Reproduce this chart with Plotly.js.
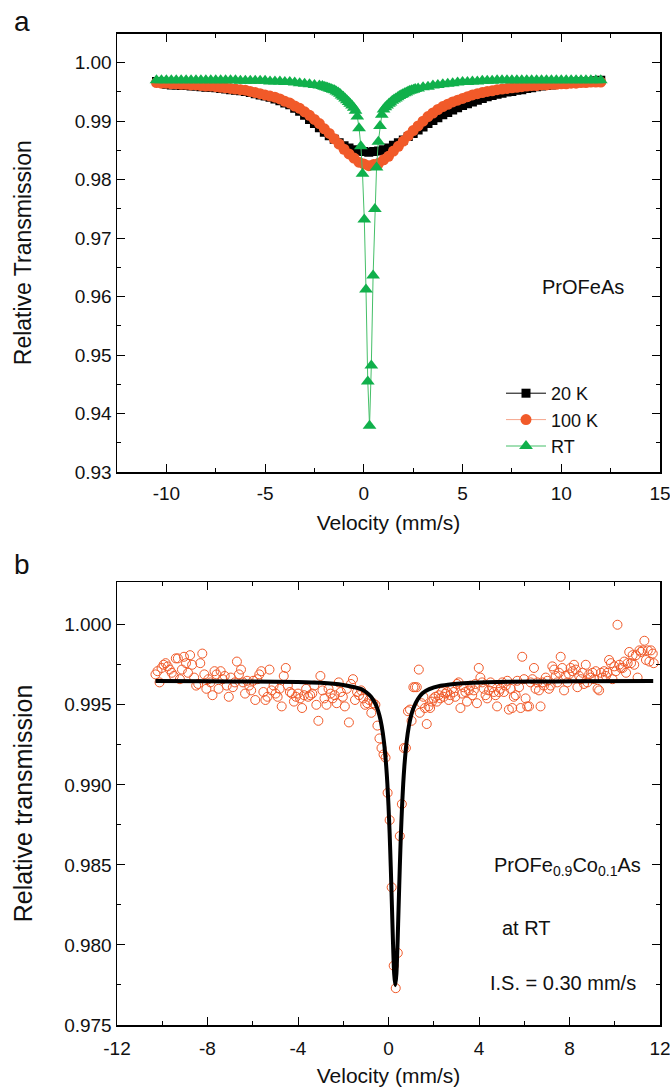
<!DOCTYPE html>
<html><head><meta charset="utf-8">
<script src="https://cdn.plot.ly/plotly-3.0.1.min.js"></script>
<style>html,body{margin:0;padding:0;background:#fff}#chart{width:670px;height:1087px}</style>
</head><body><div id="chart"></div>
<script>
// ---------- Panel a: PrOFeAs, three temperatures ----------
const velA = [
-10.5,-10.25,-10.0,-9.75,-9.5,-9.25,-9.0,-8.75,-8.5,-8.25,
-8.0,-7.75,-7.5,-7.25,-7.0,-6.75,-6.5,-6.25,-6.0,-5.75,
-5.5,-5.25,-5.0,-4.75,-4.5,-4.25,-4.0,-3.75,-3.5,-3.25,
-3.0,-2.75,-2.5,-2.25,-2.0,-1.75,-1.5,-1.25,-1.0,-0.75,
-0.5,-0.25,0.0,0.25,0.5,0.75,1.0,1.25,1.5,1.75,
2.0,2.25,2.5,2.75,3.0,3.25,3.5,3.75,4.0,4.25,
4.5,4.75,5.0,5.25,5.5,5.75,6.0,6.25,6.5,6.75,
7.0,7.25,7.5,7.75,8.0,8.25,8.5,8.75,9.0,9.25,
9.5,9.75,10.0,10.25,10.5,10.75,11.0,11.25,11.5,11.75,12.0];
const t20K = [
0.9968,0.9967,0.9963,0.9962,0.9962,0.9961,0.9961,0.9960,0.9960,0.9959,
0.9958,0.9958,0.9957,0.9956,0.9955,0.9954,0.9953,0.9952,0.9951,0.9949,
0.9947,0.9945,0.9943,0.9941,0.9938,0.9935,0.9931,0.9928,0.9922,0.9917,
0.9910,0.9903,0.9896,0.9889,0.9881,0.9875,0.9869,0.9863,0.9858,0.9854,
0.9851,0.9849,0.9848,0.9847,0.9848,0.9849,0.9851,0.9854,0.9859,0.9863,
0.9868,0.9874,0.9879,0.9885,0.9890,0.9896,0.9901,0.9906,0.9911,0.9915,
0.9919,0.9923,0.9927,0.9930,0.9933,0.9936,0.9939,0.9942,0.9944,0.9946,
0.9948,0.9950,0.9951,0.9953,0.9954,0.9956,0.9957,0.9959,0.9960,0.9961,
0.9962,0.9963,0.9964,0.9965,0.9966,0.9967,0.9967,0.9968,0.9968,0.9969,0.9970];
const t100K = [
0.9966,0.9965,0.9965,0.9964,0.9964,0.9963,0.9963,0.9962,0.9962,0.9961,
0.9960,0.9960,0.9959,0.9958,0.9957,0.9956,0.9955,0.9954,0.9953,0.9951,
0.9949,0.9947,0.9945,0.9943,0.9941,0.9938,0.9934,0.9931,0.9926,0.9922,
0.9916,0.9910,0.9903,0.9896,0.9887,0.9879,0.9870,0.9861,0.9852,0.9844,
0.9837,0.9830,0.9827,0.9824,0.9826,0.9828,0.9834,0.9840,0.9849,0.9857,
0.9866,0.9875,0.9884,0.9892,0.9900,0.9908,0.9914,0.9920,0.9925,0.9929,
0.9933,0.9936,0.9939,0.9942,0.9945,0.9947,0.9949,0.9951,0.9952,0.9954,
0.9955,0.9956,0.9957,0.9958,0.9959,0.9960,0.9961,0.9961,0.9962,0.9962,
0.9963,0.9963,0.9964,0.9964,0.9965,0.9965,0.9966,0.9966,0.9967,0.9967,0.9967];
const velRT = [
-10.5,-10.25,-10.0,-9.75,-9.5,-9.25,-9.0,-8.75,-8.5,-8.25,
-8.0,-7.75,-7.5,-7.25,-7.0,-6.75,-6.5,-6.25,-6.0,-5.75,
-5.5,-5.25,-5.0,-4.75,-4.5,-4.25,-4.0,-3.75,-3.5,-3.25,
-3.0,-2.75,-2.5,-2.25,-2.10,-2.01,-1.92,-1.83,-1.74,-1.66,
-1.57,-1.48,-1.39,-1.30,-1.21,-1.13,-1.04,-0.95,-0.86,-0.77,
-0.69,-0.60,-0.51,-0.42,-0.33,-0.24,-0.15,-0.065,0.025,0.11,
0.20,0.29,0.38,0.47,0.56,0.645,0.735,0.82,0.91,1.00,
1.09,1.18,1.27,1.35,1.44,1.53,1.62,1.71,1.80,1.89,
1.97,2.06,2.15,2.24,2.33,2.42,2.51,2.60,2.75,3.0,
3.25,3.5,3.75,4.0,4.25,4.5,4.75,5.0,5.25,5.5,
5.75,6.0,6.25,6.5,6.75,7.0,7.25,7.5,7.75,8.0,
8.25,8.5,8.75,9.0,9.25,9.5,9.75,10.0,10.25,10.5,
10.75,11.0,11.25,11.5,11.75,12.0];
const tRT = [
0.9970,0.9970,0.9970,0.9970,0.9970,0.9970,0.9970,0.9970,0.9970,0.9970,
0.9970,0.9970,0.9970,0.9970,0.9970,0.9970,0.9970,0.9969,0.9969,0.9969,
0.9969,0.9969,0.9969,0.9968,0.9968,0.9968,0.9967,0.9967,0.9966,0.9965,
0.9964,0.9963,0.9962,0.9961,0.9960,0.9959,0.9958,0.9957,0.9956,0.9955,
0.9954,0.9953,0.9951,0.9949,0.9947,0.9944,0.9942,0.9939,0.9936,0.9933,
0.9930,0.9927,0.9923,0.9918,0.9908,0.9888,0.9857,0.9810,0.9732,0.9612,
0.9455,0.9379,0.9482,0.9636,0.9750,0.9821,0.9865,0.9892,0.9911,0.9920,
0.9924,0.9927,0.9930,0.9932,0.9935,0.9937,0.9939,0.9941,0.9943,0.9945,
0.9946,0.9948,0.9949,0.9951,0.9952,0.9953,0.9954,0.9955,0.9956,0.9958,
0.9959,0.9961,0.9962,0.9963,0.9964,0.9965,0.9966,0.9967,0.9967,0.9968,
0.9968,0.9969,0.9969,0.9969,0.9970,0.9970,0.9970,0.9970,0.9970,0.9970,
0.9970,0.9970,0.9970,0.9970,0.9970,0.9970,0.9970,0.9970,0.9970,0.9970,
0.9970,0.9970,0.9970,0.9970,0.9970,0.9970];

// ---------- Panel b: PrOFe0.9Co0.1As at RT ----------
const velB = [
-10.30,-10.21,-10.12,-10.03,-9.94,-9.85,-9.76,-9.67,-9.58,-9.49,
-9.40,-9.31,-9.22,-9.13,-9.04,-8.95,-8.86,-8.77,-8.68,-8.59,
-8.50,-8.41,-8.32,-8.23,-8.14,-8.05,-7.96,-7.87,-7.78,-7.69,
-7.60,-7.51,-7.42,-7.33,-7.24,-7.15,-7.06,-6.97,-6.88,-6.79,
-6.70,-6.61,-6.52,-6.43,-6.34,-6.25,-6.16,-6.07,-5.98,-5.89,
-5.80,-5.71,-5.62,-5.53,-5.44,-5.35,-5.26,-5.17,-5.08,-4.99,
-4.90,-4.81,-4.72,-4.63,-4.54,-4.45,-4.36,-4.27,-4.18,-4.09,
-4.00,-3.91,-3.82,-3.73,-3.64,-3.55,-3.46,-3.37,-3.28,-3.19,
-3.10,-3.01,-2.92,-2.83,-2.74,-2.65,-2.56,-2.47,-2.38,-2.29,
-2.20,-2.11,-2.02,-1.93,-1.84,-1.75,-1.66,-1.57,-1.48,-1.39,
-1.30,-1.21,-1.12,-1.03,-0.94,-0.85,-0.76,-0.67,-0.58,-0.49,
-0.40,-0.31,-0.22,-0.13,-0.04,0.05,0.14,0.23,0.32,0.41,
0.50,0.59,0.68,0.77,0.86,0.95,1.02,1.10,1.17,1.25,
1.34,1.38,1.46,1.54,1.61,1.69,1.77,1.84,1.92,1.99,
2.07,2.14,2.22,2.29,2.37,2.44,2.51,2.59,2.66,2.73,
2.81,2.88,2.95,3.03,3.10,3.18,3.25,3.32,3.40,3.47,
3.55,3.62,3.70,3.77,3.84,3.91,3.99,4.06,4.14,4.21,
4.29,4.36,4.44,4.51,4.58,4.66,4.73,4.80,4.88,4.95,
5.03,5.10,5.18,5.25,5.32,5.40,5.47,5.54,5.62,5.69,
5.77,5.84,5.91,5.99,6.06,6.13,6.21,6.28,6.36,6.43,
6.50,6.58,6.65,6.72,6.80,6.87,6.95,7.02,7.09,7.17,
7.24,7.32,7.39,7.46,7.54,7.61,7.68,7.76,7.83,7.91,
7.98,8.05,8.13,8.20,8.28,8.35,8.43,8.50,8.57,8.64,
8.72,8.79,8.87,8.94,9.02,9.09,9.16,9.24,9.31,9.39,
9.46,9.53,9.61,9.68,9.75,9.83,9.90,9.98,10.05,10.12,
10.20,10.27,10.35,10.42,10.50,10.57,10.64,10.72,10.79,10.86,
10.94,11.01,11.09,11.16,11.23,11.31,11.38,11.46,11.53,11.60,
11.68,11.72];
const tB = [
0.9969,0.9971,0.9964,0.9973,0.9975,0.9976,0.9974,0.9972,0.9970,0.9968,
0.9979,0.9979,0.9966,0.9972,0.9980,0.9976,0.9970,0.9981,0.9975,0.9967,
0.9962,0.9963,0.9976,0.9982,0.9969,0.9960,0.9966,0.9964,0.9956,0.9971,
0.9969,0.9960,0.9971,0.9966,0.9968,0.9962,0.9955,0.9967,0.9961,0.9964,
0.9977,0.9969,0.9972,0.9964,0.9957,0.9965,0.9962,0.9959,0.9965,0.9953,
0.9966,0.9969,0.9971,0.9958,0.9953,0.9955,0.9972,0.9959,0.9962,0.9957,
0.9955,0.9960,0.9949,0.9968,0.9973,0.9962,0.9958,0.9957,0.9952,0.9955,
0.9957,0.9954,0.9948,0.9956,0.9960,0.9955,0.9956,0.9957,0.9962,0.9950,
0.9940,0.9968,0.9959,0.9954,0.9950,0.9960,0.9957,0.9954,0.9956,0.9951,
0.9964,0.9958,0.9955,0.9949,0.9960,0.9939,0.9963,0.9966,0.9953,0.9958,
0.9956,0.9959,0.9954,0.9950,0.9951,0.9953,0.9945,0.9951,0.9950,0.9937,
0.9929,0.9923,0.9919,0.9917,0.9895,0.9878,0.9836,0.9787,0.9773,0.9795,
0.9868,0.9888,0.9923,0.9923,0.9946,0.9947,0.9940,0.9961,0.9961,0.9961,
0.9972,0.9945,0.9951,0.9955,0.9948,0.9938,0.9949,0.9948,0.9952,0.9954,
0.9955,0.9952,0.9956,0.9954,0.9958,0.9955,0.9957,0.9958,0.9953,0.9956,
0.9960,0.9958,0.9955,0.9963,0.9964,0.9948,0.9957,0.9961,0.9958,0.9952,
0.9959,0.9962,0.9956,0.9959,0.9963,0.9951,0.9973,0.9967,0.9964,0.9960,
0.9956,0.9954,0.9959,0.9964,0.9961,0.9958,0.9956,0.9949,0.9958,0.9960,
0.9964,0.9958,0.9962,0.9965,0.9947,0.9960,0.9948,0.9955,0.9956,0.9965,
0.9961,0.9948,0.9980,0.9966,0.9954,0.9949,0.9949,0.9964,0.9966,0.9973,
0.9960,0.9964,0.9959,0.9949,0.9964,0.9962,0.9967,0.9965,0.9960,0.9962,
0.9974,0.9972,0.9968,0.9964,0.9970,0.9980,0.9973,0.9959,0.9968,0.9964,
0.9969,0.9973,0.9971,0.9975,0.9972,0.9961,0.9968,0.9966,0.9970,0.9963,
0.9975,0.9964,0.9969,0.9967,0.9970,0.9966,0.9971,0.9960,0.9959,0.9970,
0.9967,0.9971,0.9968,0.9970,0.9978,0.9976,0.9966,0.9974,0.9971,1.0000,
0.9975,0.9973,0.9973,0.9977,0.9970,0.9976,0.9983,0.9976,0.9981,0.9975,
0.9981,0.9967,0.9984,0.9983,0.9984,0.9990,0.9978,0.9984,0.9977,0.9984,
0.9982,0.9976];
const velFit = [-10.3,-8.0,-6.0,-4.0,-3.0,-2.0,-1.5,-1.2,-1.0,-0.8,-0.7,-0.6,-0.5,-0.4,-0.3,-0.2,-0.1,-0.05,0.0,0.05,0.1,0.15,0.2,0.25,0.3,0.35,0.4,0.45,0.5,0.55,0.6,0.65,0.7,0.8,0.9,1.0,1.1,1.3,1.5,1.8,2.3,2.8,3.3,4.3,6.3,8.3,11.7];
const tFit = [0.99648,0.99647,0.99645,0.99642,0.99637,0.99624,0.99610,0.99598,0.99580,0.99555,0.99536,0.99512,0.99479,0.99433,0.99367,0.99268,0.99114,0.99006,0.98869,0.98698,0.98489,0.98251,0.98010,0.97821,0.97748,0.97821,0.98010,0.98251,0.98489,0.98698,0.98869,0.99006,0.99114,0.99268,0.99367,0.99433,0.99479,0.99536,0.99572,0.99598,0.99619,0.99629,0.99635,0.99641,0.99645,0.99647,0.99648];

// tick labels
const xTicksA = [-10,-5,0,5,10,15];
const xTickTextA = ['-10','-5','0','5','10','15'];
const yTicksA = [0.93,0.94,0.95,0.96,0.97,0.98,0.99,1.00];
const xTicksB = [-12,-8,-4,0,4,8,12];
const xTickTextB = ['-12','-8','-4','0','4','8','12'];
const yTicksB = [0.975,0.980,0.985,0.990,0.995,1.000];

const W = 670, H = 1087;
const px = v => v / W, py = v => 1 - v / H;

const traces = [
  {x: velA, y: t20K, xaxis:'x', yaxis:'y', name:'20 K', mode:'lines+markers',
   line:{color:'#000000', width:1}, marker:{symbol:'square', size:9, color:'#000000'}},
  {x: velA, y: t100K, xaxis:'x', yaxis:'y', name:'100 K', mode:'lines+markers',
   line:{color:'#f6a58c', width:1}, marker:{symbol:'circle', size:11, color:'#f15a29'}},
  {x: velRT, y: tRT, xaxis:'x', yaxis:'y', name:'RT', mode:'lines+markers',
   line:{color:'#45bf68', width:1}, marker:{symbol:'triangle-up', size:12, color:'#10b04b'}},
  {x: velB, y: tB, xaxis:'x2', yaxis:'y2', name:'data', showlegend:false, mode:'markers',
   marker:{symbol:'circle-open', size:9, color:'#f15a29', line:{width:1, color:'#f15a29'}}},
  {x: velFit, y: tFit, xaxis:'x2', yaxis:'y2', name:'fit', showlegend:false, mode:'lines',
   line:{color:'#000000', width:4, shape:'spline', smoothing:0.6}}
];

const axBase = {
  showline:true, linecolor:'#000', linewidth:1.5, mirror:'ticks',
  ticks:'inside', ticklen:8, tickwidth:1, tickcolor:'#000',
  showgrid:false, zeroline:false, tickfont:{size:19, color:'#111'},
  ticklabeloverflow:'allow'
};
const font = 'Liberation Sans, Arial, Helvetica, sans-serif';
const ann = (text, x, y, size) => ({text, xref:'paper', yref:'paper', x:px(x), y:py(y),
  xanchor:'center', yanchor:'middle', showarrow:false, font:{size, color:'#111'}});

const layout = {
  width: W, height: H, margin:{l:0, r:0, t:0, b:0},
  paper_bgcolor:'#fff', plot_bgcolor:'#fff',
  font:{family: font, color:'#111'},
  showlegend:true,
  legend:{x: px(501), y: py(375), xanchor:'left', yanchor:'top',
          font:{size:18, color:'#111'}, bgcolor:'rgba(0,0,0,0)', itemwidth:40, tracegroupgap:0},
  xaxis: Object.assign({}, axBase, {
    domain:[px(117), px(660)], anchor:'y', range:[-12.5, 15],
    tickmode:'array', tickvals:xTicksA, ticktext:xTickTextA, ticklabelstandoff:4,
    minor:{ticks:'inside', ticklen:4, tickwidth:1, tickcolor:'#000', showgrid:false,
           tickmode:'array', tickvals:[-7.5,-2.5,2.5,7.5,12.5]},
    title:{text:'Velocity (mm/s)', font:{size:21, color:'#111'}, standoff:12}
  }),
  yaxis: Object.assign({}, axBase, {
    domain:[py(472), py(33.5)], anchor:'x', range:[0.93, 1.005],
    tickmode:'array', tickvals:yTicksA, tickformat:'.2f',
    minor:{ticks:'inside', ticklen:4, tickwidth:1, tickcolor:'#000', showgrid:false,
           tickmode:'array', tickvals:[0.935,0.945,0.955,0.965,0.975,0.985,0.995]},
    title:{text:'Relative Transmission', font:{size:23, color:'#111'}, standoff:36}
  }),
  xaxis2: Object.assign({}, axBase, {
    domain:[px(117), px(660)], anchor:'y2', range:[-12, 12],
    tickmode:'array', tickvals:xTicksB, ticktext:xTickTextB, ticklabelstandoff:6,
    minor:{ticks:'inside', ticklen:4, tickwidth:1, tickcolor:'#000', showgrid:false,
           tickmode:'array', tickvals:[-10,-6,-2,2,6,10]},
    title:{text:'Velocity (mm/s)', font:{size:21, color:'#111'}, standoff:14}
  }),
  yaxis2: Object.assign({}, axBase, {
    domain:[py(1025), py(582)], anchor:'x2', range:[0.975, 1.00267],
    tickmode:'array', tickvals:yTicksB, tickformat:'.3f',
    minor:{ticks:'inside', ticklen:4, tickwidth:1, tickcolor:'#000', showgrid:false,
           tickmode:'array', tickvals:[0.9775,0.9825,0.9875,0.9925,0.9975]},
    title:{text:'Relative transmission', font:{size:25, color:'#111'}, standoff:24}
  }),
  annotations:[
    ann('a', 22, 22, 28),
    ann('b', 22, 564, 28),
    ann('PrOFeAs', 583, 287, 20),
    ann('PrOFe<sub>0.9</sub>Co<sub>0.1</sub>As', 567, 866, 20),
    ann('at RT', 526, 928, 20),
    ann('I.S. = 0.30 mm/s', 563, 983, 20)
  ]
};

Plotly.newPlot('chart', traces, layout, {displayModeBar:false, staticPlot:true});
</script></body></html>
